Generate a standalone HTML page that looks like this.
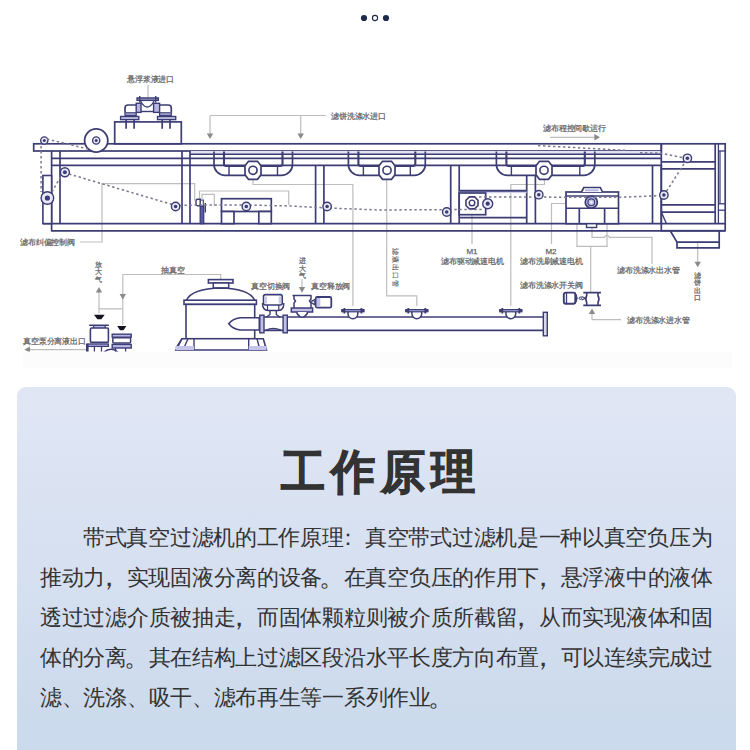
<!DOCTYPE html>
<html><head><meta charset="utf-8">
<style>
html,body{margin:0;padding:0;background:#fff;width:750px;height:750px;overflow:hidden;font-family:"Liberation Sans",sans-serif;}
.dots{position:absolute;left:0;top:0;}
.card{position:absolute;left:17px;top:387px;width:719px;height:380px;border-radius:9px;background:linear-gradient(180deg,#e0e6f4 0px,#d6e0f0 180px,#cad9ec 363px);}
h1{position:absolute;left:5.5px;top:442px;width:750px;margin:0;text-align:center;font-size:47px;letter-spacing:6.3px;transform:scaleX(0.94);transform-origin:375px 0;font-weight:bold;color:#333;line-height:60px;-webkit-text-stroke:1px #333;}
.p{position:absolute;left:40px;top:518px;width:680px;font-size:22px;letter-spacing:-0.3px;line-height:40px;color:#333;}
.p div{white-space:nowrap;height:40px;}
.cm{display:inline-block;width:21.7px;transform:translate(-7px,-1px) scale(1.25);}
.cl{display:inline-block;width:21.7px;transform:translate(-6px,0);}
.pd{display:inline-block;width:21.7px;transform:translate(-1px,0) scale(1.2);}
</style></head><body>
<svg width="750" height="370" viewBox="0 0 750 370" style="position:absolute;left:0;top:0" font-family="Liberation Sans, sans-serif"><defs><clipPath id="cp"><rect x="0" y="0" width="750" height="351.6"/></clipPath></defs><rect x="23" y="352" width="709" height="16" fill="#fcfcfc"/><g clip-path="url(#cp)"><path d="M148,85 L148,98" stroke="#bdbdbd" stroke-width="1.2" fill="none"/>
<path d="M210,115.5 L326,115.5" stroke="#bdbdbd" stroke-width="1.2" fill="none"/>
<path d="M210,115.5 L210,136" stroke="#bdbdbd" stroke-width="1.2" fill="none"/>
<path d="M300.7,115.5 L300.7,136" stroke="#bdbdbd" stroke-width="1.2" fill="none"/>
<polygon points="210,139 206.8,133.4 213.2,133.4" fill="#8a8a8a"/>
<polygon points="300.7,139 297.5,133.4 303.9,133.4" fill="#8a8a8a"/>
<path d="M550,137.3 L596,137.3" stroke="#bdbdbd" stroke-width="1.2" fill="none"/>
<polygon points="600,137.3 594.4,134.10000000000002 594.4,140.5" fill="#8a8a8a"/>
<path d="M80,242 L102,242 L102,183.7 L194.7,183.7 L194.7,200.7" stroke="#bdbdbd" stroke-width="1.2" fill="none"/>
<path d="M199.5,199 L199.5,191 L288.7,191 L288.7,205" stroke="#bdbdbd" stroke-width="1.2" fill="none"/>
<path d="M253,178 L253,184.5 L352.9,184.5 L352.9,306" stroke="#bdbdbd" stroke-width="1.2" fill="none"/>
<path d="M386.7,179 L386.7,295.8 L416.8,295.8 L416.8,306" stroke="#bdbdbd" stroke-width="1.2" fill="none"/>
<path d="M544.4,178 L544.4,184.5 L510.8,184.5 L510.8,306" stroke="#bdbdbd" stroke-width="1.2" fill="none"/>
<path d="M472,215 L472,244" stroke="#bdbdbd" stroke-width="1.2" fill="none"/>
<path d="M566,203.5 L551.5,203.5 L551.5,244" stroke="#bdbdbd" stroke-width="1.2" fill="none"/>
<path d="M577,205 L577,246.3 L607,246.3 L607,205" stroke="#bdbdbd" stroke-width="1.2" fill="none"/>
<path d="M590.7,246.3 L590.7,292" stroke="#bdbdbd" stroke-width="1.2" fill="none"/>
<path d="M592,228 L592,237.3 L604.5,237.3 Q607,233.5 609.5,237.3 L652,237.3 L652,264" stroke="#bdbdbd" stroke-width="1.2" fill="none"/>
<path d="M592,312 L592,319.7 L621,319.7" stroke="#bdbdbd" stroke-width="1.2" fill="none"/>
<polygon points="592,308.5 588.8,314.1 595.2,314.1" fill="#8a8a8a"/>
<path d="M697.7,241 L697.7,263" stroke="#bdbdbd" stroke-width="1.2" fill="none"/>
<polygon points="697.7,267.3 694.5,261.7 700.9000000000001,261.7" fill="#8a8a8a"/>
<path d="M99,291 L99,313 L99,308.8 L122.8,308.8" stroke="#bdbdbd" stroke-width="1.2" fill="none"/>
<polygon points="99,287 95.8,292.6 102.2,292.6" fill="#8a8a8a"/>
<path d="M122.8,274.5 L122.8,325" stroke="#bdbdbd" stroke-width="1.2" fill="none"/>
<polygon points="122.8,299.5 119.6,293.9 126.0,293.9" fill="#8a8a8a"/>
<path d="M122.8,274.5 L220.7,274.5 L220.7,280" stroke="#bdbdbd" stroke-width="1.2" fill="none"/>
<path d="M302,279 L302,289" stroke="#bdbdbd" stroke-width="1.2" fill="none"/>
<polygon points="302,292.7 298.8,287.09999999999997 305.2,287.09999999999997" fill="#8a8a8a"/>
<path d="M28,349.6 L87,349.6" stroke="#bdbdbd" stroke-width="1.2" fill="none"/>
<polygon points="24.4,349.6 30.0,346.40000000000003 30.0,352.8" fill="#8a8a8a"/>
<rect x="33.7" y="143.8" width="627.6" height="7.2" stroke="#3c3d74" stroke-width="1.7" fill="#fff" />
<rect x="190" y="151" width="471" height="3.3" fill="#e2e2f5"/>
<line x1="52" y1="158.3" x2="661" y2="158.3" stroke="#3c3d74" stroke-width="1.7" />
<line x1="52" y1="165.4" x2="661" y2="165.4" stroke="#3c3d74" stroke-width="1.7" />
<line x1="190" y1="154.3" x2="661" y2="154.3" stroke="#3c3d74" stroke-width="1.4" />
<line x1="43" y1="223.6" x2="725" y2="223.6" stroke="#3c3d74" stroke-width="1.7" />
<line x1="51.6" y1="230.8" x2="725" y2="230.8" stroke="#3c3d74" stroke-width="1.7" />
<line x1="51.6" y1="151" x2="51.6" y2="231.5" stroke="#3c3d74" stroke-width="1.7" />
<line x1="60" y1="151" x2="60" y2="224" stroke="#3c3d74" stroke-width="1.7" />
<rect x="42.9" y="175.5" width="8.7" height="48.1" stroke="#3c3d74" stroke-width="1.6" fill="#fff" />
<line x1="182" y1="151" x2="182" y2="223.6" stroke="#3c3d74" stroke-width="1.7" />
<line x1="190" y1="151" x2="190" y2="223.6" stroke="#3c3d74" stroke-width="1.7" />
<line x1="315.6" y1="165" x2="315.6" y2="223.6" stroke="#3c3d74" stroke-width="1.7" />
<line x1="323.9" y1="165" x2="323.9" y2="223.6" stroke="#3c3d74" stroke-width="1.7" />
<line x1="450.7" y1="165" x2="450.7" y2="223.6" stroke="#3c3d74" stroke-width="1.7" />
<line x1="459.2" y1="165" x2="459.2" y2="223.6" stroke="#3c3d74" stroke-width="1.7" />
<line x1="526.7" y1="165" x2="526.7" y2="223.6" stroke="#3c3d74" stroke-width="1.7" />
<line x1="535.4" y1="165" x2="535.4" y2="223.6" stroke="#3c3d74" stroke-width="1.7" />
<line x1="652.5" y1="165" x2="652.5" y2="223.6" stroke="#3c3d74" stroke-width="1.7" />
<line x1="661.3" y1="165" x2="661.3" y2="223.6" stroke="#3c3d74" stroke-width="1.7" />
<rect x="661.3" y="143.8" width="63.9" height="86.9" stroke="#3c3d74" stroke-width="1.7" fill="none" />
<line x1="715.2" y1="143.8" x2="715.2" y2="223.5" stroke="#3c3d74" stroke-width="1.7" />
<line x1="718.4" y1="143.8" x2="718.4" y2="223.5" stroke="#3c3d74" stroke-width="1.3" />
<line x1="661.3" y1="161.9" x2="715.2" y2="161.9" stroke="#3c3d74" stroke-width="1.7" />
<line x1="661.3" y1="168.9" x2="715.2" y2="168.9" stroke="#3c3d74" stroke-width="1.7" />
<line x1="661.3" y1="204.9" x2="715.2" y2="204.9" stroke="#3c3d74" stroke-width="1.7" />
<line x1="661.3" y1="212.1" x2="715.2" y2="212.1" stroke="#3c3d74" stroke-width="1.7" />
<line x1="720" y1="151" x2="720" y2="203.8" stroke="#3c3d74" stroke-width="1.2" />
<line x1="718.4" y1="151" x2="725.6" y2="151" stroke="#3c3d74" stroke-width="1.3" />
<line x1="718.4" y1="203.8" x2="725.6" y2="203.8" stroke="#3c3d74" stroke-width="1.3" />
<line x1="718.4" y1="210.2" x2="725.6" y2="210.2" stroke="#3c3d74" stroke-width="1.3" />
<line x1="661.3" y1="212" x2="666.4" y2="223.5" stroke="#3c3d74" stroke-width="1.4" />
<path d="M670.4,231 L677,242.2 L719.2,242.2 L719.2,247.8 L677,247.8 L677,242.2 M719.2,231 L719.2,242.2" stroke="#3c3d74" stroke-width="1.7" fill="none" />
<rect x="224" y="166" width="58.5" height="9.4" stroke="#3c3d74" stroke-width="0" fill="#fff" />
<path d="M214,151.5 L214,164.4 A11,11 0 0 0 225,175.4 L281.5,175.4 A11,11 0 0 0 292.5,164.4 L292.5,151.5" stroke="#3c3d74" stroke-width="1.7" fill="none" />
<path d="M224,151.5 L224,164 Q224,166 226,166 L280.5,166 Q282.5,166 282.5,164 L282.5,151.5" stroke="#3c3d74" stroke-width="2.1" fill="none" />
<line x1="229" y1="166" x2="229" y2="175.4" stroke="#3c3d74" stroke-width="1.4" />
<line x1="277.5" y1="166" x2="277.5" y2="175.4" stroke="#3c3d74" stroke-width="1.4" />
<polygon points="245,165.8 248.5,161.3 257.5,161.3 261,165.8 261,174.8 257.5,179.3 248.5,179.3 245,174.8" stroke="#3c3d74" stroke-width="1.7" fill="#fff"/>
<circle cx="253" cy="170.3" r="4.1" stroke="#3c3d74" stroke-width="1.6" fill="#fff"/>
<rect x="358.4" y="166" width="56.900000000000034" height="9.4" stroke="#3c3d74" stroke-width="0" fill="#fff" />
<path d="M348.4,151.5 L348.4,164.4 A11,11 0 0 0 359.4,175.4 L414.3,175.4 A11,11 0 0 0 425.3,164.4 L425.3,151.5" stroke="#3c3d74" stroke-width="1.7" fill="none" />
<path d="M358.4,151.5 L358.4,164 Q358.4,166 360.4,166 L413.3,166 Q415.3,166 415.3,164 L415.3,151.5" stroke="#3c3d74" stroke-width="2.1" fill="none" />
<line x1="363.4" y1="166" x2="363.4" y2="175.4" stroke="#3c3d74" stroke-width="1.4" />
<line x1="410.3" y1="166" x2="410.3" y2="175.4" stroke="#3c3d74" stroke-width="1.4" />
<polygon points="379,165.8 382.5,161.3 391.5,161.3 395,165.8 395,174.8 391.5,179.3 382.5,179.3 379,174.8" stroke="#3c3d74" stroke-width="1.7" fill="#fff"/>
<circle cx="387" cy="170.3" r="4.1" stroke="#3c3d74" stroke-width="1.6" fill="#fff"/>
<rect x="506.4" y="166" width="78.39999999999998" height="9.4" stroke="#3c3d74" stroke-width="0" fill="#fff" />
<path d="M496.4,151.5 L496.4,164.4 A11,11 0 0 0 507.4,175.4 L583.8,175.4 A11,11 0 0 0 594.8,164.4 L594.8,151.5" stroke="#3c3d74" stroke-width="1.7" fill="none" />
<path d="M506.4,151.5 L506.4,164 Q506.4,166 508.4,166 L582.8,166 Q584.8,166 584.8,164 L584.8,151.5" stroke="#3c3d74" stroke-width="2.1" fill="none" />
<line x1="511.4" y1="166" x2="511.4" y2="175.4" stroke="#3c3d74" stroke-width="1.4" />
<line x1="579.8" y1="166" x2="579.8" y2="175.4" stroke="#3c3d74" stroke-width="1.4" />
<polygon points="536,165.8 539.5,161.3 548.5,161.3 552,165.8 552,174.8 548.5,179.3 539.5,179.3 536,174.8" stroke="#3c3d74" stroke-width="1.7" fill="#fff"/>
<circle cx="544" cy="170.3" r="4.1" stroke="#3c3d74" stroke-width="1.6" fill="#fff"/>
<rect x="114.7" y="121.9" width="66.6" height="21.9" stroke="#3c3d74" stroke-width="1.7" fill="#fff" />
<line x1="126.1" y1="119.6" x2="126.1" y2="128.8" stroke="#3c3d74" stroke-width="1.7" />
<line x1="134.1" y1="119.6" x2="134.1" y2="128.8" stroke="#3c3d74" stroke-width="1.7" />
<line x1="162.2" y1="119.6" x2="162.2" y2="128.8" stroke="#3c3d74" stroke-width="1.7" />
<line x1="170" y1="119.6" x2="170" y2="128.8" stroke="#3c3d74" stroke-width="1.7" />
<rect x="120.6" y="116.5" width="18.2" height="3.1" stroke="#3c3d74" stroke-width="1.4" fill="#c8c8ea" />
<rect x="157.5" y="116.5" width="18.2" height="3.1" stroke="#3c3d74" stroke-width="1.4" fill="#c8c8ea" />
<rect x="125" y="112.8" width="11.2" height="2.6" stroke="#3c3d74" stroke-width="1.2" fill="#b8b8e4" />
<rect x="159.6" y="112.8" width="11.7" height="2.6" stroke="#3c3d74" stroke-width="1.2" fill="#b8b8e4" />
<path d="M125,112.8 L125,108 Q125,105 128,105 L136.2,105" stroke="#3c3d74" stroke-width="1.7" fill="#fff" />
<path d="M171.3,112.8 L171.3,108 Q171.3,105 168.3,105 L159.6,105" stroke="#3c3d74" stroke-width="1.7" fill="#fff" />
<rect x="136.2" y="103.3" width="4.8" height="9.1" stroke="#3c3d74" stroke-width="1.4" fill="#b8b8e4" />
<rect x="153.6" y="103.3" width="6" height="9.1" stroke="#3c3d74" stroke-width="1.4" fill="#b8b8e4" />
<path d="M141,100.5 L141,102 Q147.3,112 153.6,102 L153.6,100.5" stroke="#3c3d74" stroke-width="1.4" fill="#fff" />
<line x1="141" y1="111.5" x2="153.6" y2="111.5" stroke="#3c3d74" stroke-width="1.4" />
<rect x="137.1" y="98" width="21.2" height="2.3" stroke="#3c3d74" stroke-width="1.5" fill="#b8b8e4" />
<line x1="139.7" y1="96" x2="139.7" y2="102.5" stroke="#3c3d74" stroke-width="1.4" />
<line x1="155.7" y1="96" x2="155.7" y2="102.5" stroke="#3c3d74" stroke-width="1.4" />
<circle cx="96.2" cy="140.5" r="11.6" stroke="#3c3d74" stroke-width="1.8" fill="#fff"/>
<circle cx="96.2" cy="140.5" r="3.6" stroke="#3c3d74" stroke-width="1.4" fill="#e8e8f6"/>
<circle cx="96.2" cy="140.5" r="1.5" fill="#3c3d74"/>
<circle cx="44.3" cy="140.5" r="3.6" stroke="#3c3d74" stroke-width="1.4" fill="#e8e8f6"/>
<circle cx="44.3" cy="140.5" r="1.5" fill="#3c3d74"/>
<rect x="221.5" y="198.7" width="49.8" height="12.8" stroke="#3c3d74" stroke-width="1.7" fill="#fff" />
<rect x="221.5" y="211.5" width="12.5" height="12.1" stroke="#3c3d74" stroke-width="1.7" fill="#fff" />
<rect x="258.8" y="211.5" width="12.5" height="12.1" stroke="#3c3d74" stroke-width="1.7" fill="#fff" />
<rect x="200.2" y="206" width="3.5" height="17.6" stroke="#3c3d74" stroke-width="1.3" fill="#5a5aa8" />
<path d="M200.3,199.3 L197.5,199.3 Q196,199.3 196,201 L196,204 Q196,205.7 197.5,205.7 L200.3,205.7 Z" stroke="#3c3d74" stroke-width="1.4" fill="#fff" />
<rect x="200.3" y="200" width="3" height="6" stroke="#3c3d74" stroke-width="1.1" fill="#fff" />
<line x1="205.3" y1="203" x2="205.3" y2="212.5" stroke="#3c3d74" stroke-width="1.4" />
<path d="M202,200 L202,194.3 L214.3,194.3 L214.3,206" stroke="#bdbdbd" stroke-width="1.2" fill="none"/>
<rect x="459.2" y="190.7" width="67.5" height="2.4" fill="#d0d0ee"/>
<line x1="459.2" y1="190.7" x2="526.7" y2="190.7" stroke="#3c3d74" stroke-width="1.9" />
<line x1="459.2" y1="217.6" x2="526.7" y2="217.6" stroke="#3c3d74" stroke-width="1.9" />
<rect x="459.2" y="193" width="26.5" height="21.7" stroke="#3c3d74" stroke-width="1.7" fill="#fff" />
<polygon points="466,200.3 469.4,196.9 474.6,196.9 478,200.3 478,205.5 474.6,208.9 469.4,208.9 466,205.5" stroke="#3c3d74" stroke-width="1.6" fill="#fff"/>
<circle cx="472" cy="202.9" r="2.8" stroke="#3c3d74" stroke-width="1.4" fill="#fff"/>
<rect x="566" y="192" width="52.5" height="31.7" stroke="#3c3d74" stroke-width="1.7" fill="#fff" />
<line x1="566" y1="196" x2="618.5" y2="196" stroke="#3c3d74" stroke-width="1.5" />
<path d="M581.5,192 L583.8,187.5 L600.3,187.5 L602.5,192" stroke="#3c3d74" stroke-width="1.7" fill="#fff" />
<rect x="585" y="189.3" width="13.5" height="2" fill="#b8b8e4"/>
<line x1="566" y1="208.3" x2="618.5" y2="208.3" stroke="#3c3d74" stroke-width="1.6" />
<line x1="579.3" y1="208.3" x2="579.3" y2="223.7" stroke="#3c3d74" stroke-width="1.7" />
<line x1="604.6" y1="208.3" x2="604.6" y2="223.7" stroke="#3c3d74" stroke-width="1.7" />
<circle cx="591.3" cy="202.2" r="6" stroke="#3c3d74" stroke-width="1.8" fill="#c8c8ec"/>
<circle cx="591.3" cy="202.2" r="3.4" stroke="#3c3d74" stroke-width="1.2" fill="#c8c8ec"/>
<circle cx="591.3" cy="202.2" r="1" fill="#fff"/>
<rect x="586.5" y="223.7" width="10.1" height="3.8" stroke="#3c3d74" stroke-width="1.4" fill="#fff" />
<path d="M47,139 L88,149" stroke="#787890" stroke-width="1.5" stroke-dasharray="2.4 2.6" fill="none"/>
<path d="M41.1,146 L41.1,192" stroke="#787890" stroke-width="1.5" stroke-dasharray="2.4 2.6" fill="none"/>
<path d="M52,192 L61,176" stroke="#787890" stroke-width="1.5" stroke-dasharray="2.4 2.6" fill="none"/>
<path d="M69,174 L175.6,205.5 L200,205 L246.3,205 L290,206 L327,208 L380,210 L446.7,209.6 L483,209.6" stroke="#787890" stroke-width="1.5" stroke-dasharray="2.4 2.6" fill="none"/>
<path d="M479,197 L538.8,197 L566,197.3 L619,197.3" stroke="#787890" stroke-width="1.5" stroke-dasharray="2.4 2.6" fill="none"/>
<path d="M619,197.3 L663.9,195.5 L687.4,158.3" stroke="#787890" stroke-width="1.5" stroke-dasharray="2.4 2.6" fill="none"/>
<path d="M538,145.6 L625,150.3" stroke="#787890" stroke-width="1.5" stroke-dasharray="2.4 2.6" fill="none"/>
<path d="M640,152.7 L661,153.2 L687.2,158.7" stroke="#787890" stroke-width="1.5" stroke-dasharray="2.4 2.6" fill="none"/>
<circle cx="47.4" cy="198" r="6.3" stroke="#3c3d74" stroke-width="1.4" fill="#e8e8f6"/>
<circle cx="47.4" cy="198" r="2.6" fill="#3c3d74"/>
<circle cx="487.7" cy="203.7" r="5" stroke="#3c3d74" stroke-width="1.4" fill="#e8e8f6"/>
<circle cx="487.7" cy="203.7" r="2.1" fill="#3c3d74"/>
<circle cx="64.9" cy="172.3" r="4.5" stroke="#3c3d74" stroke-width="1.4" fill="#e8e8f6"/>
<circle cx="64.9" cy="172.3" r="2" fill="#3c3d74"/>
<circle cx="175.6" cy="206.5" r="4.2" stroke="#3c3d74" stroke-width="1.4" fill="#e8e8f6"/>
<circle cx="175.6" cy="206.5" r="1.8" fill="#3c3d74"/>
<circle cx="246.3" cy="206.5" r="4.2" stroke="#3c3d74" stroke-width="1.4" fill="#e8e8f6"/>
<circle cx="246.3" cy="206.5" r="1.8" fill="#3c3d74"/>
<circle cx="327.1" cy="206.5" r="4.2" stroke="#3c3d74" stroke-width="1.4" fill="#e8e8f6"/>
<circle cx="327.1" cy="206.5" r="1.8" fill="#3c3d74"/>
<circle cx="446.7" cy="212" r="4.2" stroke="#3c3d74" stroke-width="1.4" fill="#e8e8f6"/>
<circle cx="446.7" cy="212" r="1.8" fill="#3c3d74"/>
<circle cx="538.8" cy="194.7" r="4.2" stroke="#3c3d74" stroke-width="1.4" fill="#e8e8f6"/>
<circle cx="538.8" cy="194.7" r="1.8" fill="#3c3d74"/>
<circle cx="663.9" cy="195" r="4.2" stroke="#3c3d74" stroke-width="1.4" fill="#e8e8f6"/>
<circle cx="663.9" cy="195" r="1.8" fill="#3c3d74"/>
<circle cx="687.4" cy="158.3" r="4.2" stroke="#3c3d74" stroke-width="1.4" fill="#e8e8f6"/>
<circle cx="687.4" cy="158.3" r="1.8" fill="#3c3d74"/>
<rect x="208.4" y="279.6" width="24.6" height="3.4" stroke="#3c3d74" stroke-width="1.6" fill="#fff" />
<rect x="213.3" y="283" width="15.4" height="5" stroke="#3c3d74" stroke-width="1.5" fill="#fff" />
<path d="M186.5,300.2 Q192,288.5 220.7,288 Q249,288.5 254.7,300.2" stroke="#3c3d74" stroke-width="1.7" fill="#fff" />
<rect x="184" y="300.2" width="72.4" height="4.2" stroke="#3c3d74" stroke-width="1.6" fill="#fff" />
<rect x="186" y="304.4" width="68.7" height="34.3" stroke="#3c3d74" stroke-width="1.6" fill="#fff" />
<path d="M182,338.7 L263.3,338.7 L266.5,350 L176,350 Z" stroke="#3c3d74" stroke-width="1.6" fill="#fff" />
<path d="M182,338.7 L176,348 M194,338.7 L194,350 M188,338.7 L183,350 M248.7,338.7 L248.7,350 M257,338.7 L260,350" stroke="#3c3d74" stroke-width="1.4" fill="none" />
<rect x="176" y="346" width="18" height="4" fill="#c5c5ea"/><rect x="248.7" y="346" width="17.8" height="4" fill="#c5c5ea"/>
<path d="M228.7,323.7 Q233,318.5 240,317.7 L259.3,317.7 L259.3,330 L240,330 Q233,329 228.7,323.7 Z" stroke="#3c3d74" stroke-width="1.6" fill="#fff" />
<line x1="259" y1="317" x2="545" y2="317" stroke="#3c3d74" stroke-width="1.7" />
<line x1="259" y1="330.4" x2="545" y2="330.4" stroke="#3c3d74" stroke-width="1.7" />
<rect x="259.79999999999995" y="315.2" width="4.2" height="17.6" stroke="#3c3d74" stroke-width="1.4" fill="#c0c0e8" />
<rect x="283.09999999999997" y="315.2" width="4.2" height="17.6" stroke="#3c3d74" stroke-width="1.4" fill="#c0c0e8" />
<rect x="543.3" y="312.3" width="4" height="23.5" stroke="#3c3d74" stroke-width="1.4" fill="#d8d8ef" />
<path d="M262.5,303 Q262.5,310.4 268,310.4 L278.5,310.4 Q283.8,310.4 283.8,303" stroke="#3c3d74" stroke-width="1.5" fill="#fff" />
<rect x="263.5" y="294.6" width="18.7" height="10.4" rx="2" stroke="#3c3d74" stroke-width="1.6" fill="#fff"/>
<rect x="264.5" y="296.5" width="2.5" height="7" fill="#c8c8ea"/><rect x="278.7" y="296.5" width="2.5" height="7" fill="#c8c8ea"/>
<line x1="267.5" y1="305" x2="267.5" y2="310.4" stroke="#3c3d74" stroke-width="1.2" />
<line x1="278.8" y1="305" x2="278.8" y2="310.4" stroke="#3c3d74" stroke-width="1.2" />
<path d="M270,310.4 L270,314.5 L266,317.5 M276.3,310.4 L276.3,314.5 L280.3,317.5" stroke="#3c3d74" stroke-width="1.4" fill="none" />
<path d="M266,330 Q273,327 281,330" stroke="#3c3d74" stroke-width="1.3" fill="none" />
<line x1="292.5" y1="295.5" x2="311.5" y2="295.5" stroke="#3c3d74" stroke-width="1.6" />
<path d="M294,295.5 L294,299 L295.5,301 L294,303 L294,308 M311,295.5 L311,299 L309.5,301 L311,303 L311,308" stroke="#3c3d74" stroke-width="1.5" fill="none" />
<rect x="291.3" y="308" width="21.3" height="4" stroke="#3c3d74" stroke-width="1.5" fill="#c0c0e8" />
<path d="M297,312 L297,313.5 Q302,321 307.3,313.5 L307.3,312" stroke="#3c3d74" stroke-width="1.5" fill="#fff" />
<rect x="315.8" y="297" width="15.5" height="10.7" rx="1.5" stroke="#3c3d74" stroke-width="1.8" fill="#fff"/>
<rect x="316.8" y="298" width="3.5" height="8.7" fill="#c0c0e8"/>
<path d="M311,301.5 L315.8,299 M311,302.5 L315.8,305.5" stroke="#3c3d74" stroke-width="1.3" fill="none" />
<circle cx="313.3" cy="302.2" r="1.6" stroke="#3c3d74" stroke-width="1.1" fill="#fff"/>
<path d="M348.0,311.5 L348.0,313.8 A4.9,4.9 0 0 0 357.79999999999995,313.8 L357.79999999999995,311.5" stroke="#3c3d74" stroke-width="1.5" fill="#fff" />
<rect x="341.9" y="309.6" width="22" height="2.2" stroke="#3c3d74" stroke-width="1.2" fill="#a8a8dc" />
<line x1="344.4" y1="308" x2="344.4" y2="313.6" stroke="#3c3d74" stroke-width="1.8" />
<line x1="361.4" y1="308" x2="361.4" y2="313.6" stroke="#3c3d74" stroke-width="1.8" />
<line x1="341.4" y1="310.7" x2="343.9" y2="310.7" stroke="#3c3d74" stroke-width="2.2" />
<line x1="361.9" y1="310.7" x2="364.4" y2="310.7" stroke="#3c3d74" stroke-width="2.2" />
<path d="M411.90000000000003,311.5 L411.90000000000003,313.8 A4.9,4.9 0 0 0 421.7,313.8 L421.7,311.5" stroke="#3c3d74" stroke-width="1.5" fill="#fff" />
<rect x="405.8" y="309.6" width="22" height="2.2" stroke="#3c3d74" stroke-width="1.2" fill="#a8a8dc" />
<line x1="408.3" y1="308" x2="408.3" y2="313.6" stroke="#3c3d74" stroke-width="1.8" />
<line x1="425.3" y1="308" x2="425.3" y2="313.6" stroke="#3c3d74" stroke-width="1.8" />
<line x1="405.3" y1="310.7" x2="407.8" y2="310.7" stroke="#3c3d74" stroke-width="2.2" />
<line x1="425.8" y1="310.7" x2="428.3" y2="310.7" stroke="#3c3d74" stroke-width="2.2" />
<path d="M505.90000000000003,311.5 L505.90000000000003,313.8 A4.9,4.9 0 0 0 515.7,313.8 L515.7,311.5" stroke="#3c3d74" stroke-width="1.5" fill="#fff" />
<rect x="499.8" y="309.6" width="22" height="2.2" stroke="#3c3d74" stroke-width="1.2" fill="#a8a8dc" />
<line x1="502.3" y1="308" x2="502.3" y2="313.6" stroke="#3c3d74" stroke-width="1.8" />
<line x1="519.3" y1="308" x2="519.3" y2="313.6" stroke="#3c3d74" stroke-width="1.8" />
<line x1="499.3" y1="310.7" x2="501.8" y2="310.7" stroke="#3c3d74" stroke-width="2.2" />
<line x1="519.8" y1="310.7" x2="522.3" y2="310.7" stroke="#3c3d74" stroke-width="2.2" />
<polygon points="94,314.7 104.7,314.7 101.3,319.3 97.4,319.3" fill="#141420"/>
<polygon points="117.2,326 126.4,326 123.5,330.2 120,330.2" fill="#141420"/>
<line x1="89.2" y1="325.2" x2="108.8" y2="325.2" stroke="#3c3d74" stroke-width="1.6" />
<rect x="93.6" y="326" width="11.6" height="2" fill="#b8b8e4"/>
<line x1="93.6" y1="325" x2="93.6" y2="329" stroke="#3c3d74" stroke-width="1.3" />
<line x1="105.2" y1="325" x2="105.2" y2="329" stroke="#3c3d74" stroke-width="1.3" />
<rect x="90.4" y="328" width="18" height="14.4" rx="1.2" stroke="#3c3d74" stroke-width="1.6" fill="#fff"/>
<rect x="86.8" y="344" width="21.6" height="2.4" stroke="#3c3d74" stroke-width="1.3" fill="#b8b8e4" />
<line x1="87.3" y1="344" x2="87.3" y2="352" stroke="#3c3d74" stroke-width="2.6" />
<line x1="94.4" y1="346" x2="94.4" y2="352" stroke="#3c3d74" stroke-width="1.3" />
<line x1="101.5" y1="346" x2="101.5" y2="352" stroke="#3c3d74" stroke-width="1.3" />
<circle cx="111" cy="358.8" r="9.5" stroke="#3c3d74" stroke-width="1.6" fill="#fff"/>
<rect x="112.2" y="334.2" width="19" height="3" stroke="#3c3d74" stroke-width="1.4" fill="#b8b8e4" />
<rect x="112.8" y="337.8" width="17.8" height="5.2" rx="1" stroke="#3c3d74" stroke-width="1.5" fill="#fff"/>
<rect x="112.2" y="344.4" width="19" height="3.6" stroke="#3c3d74" stroke-width="1.4" fill="#b8b8e4" />
<line x1="115.6" y1="348" x2="115.6" y2="352" stroke="#3c3d74" stroke-width="1.3" />
<line x1="125.6" y1="348" x2="125.6" y2="352" stroke="#3c3d74" stroke-width="1.3" />
<rect x="563.8" y="292.6" width="11.5" height="11.2" rx="2" stroke="#3c3d74" stroke-width="1.9" fill="#fff"/>
<line x1="566.5" y1="293" x2="566.5" y2="303.5" stroke="#3c3d74" stroke-width="1.3" />
<path d="M574.5,292.8 Q579,298.2 574.5,303.6" stroke="#3c3d74" stroke-width="1.6" fill="none" />
<path d="M575.5,293.5 Q578.5,298.2 575.5,303" stroke="#3c3d74" stroke-width="1" fill="none" />
<circle cx="580.3" cy="298.2" r="1.2" stroke="#3c3d74" stroke-width="1" fill="#fff"/>
<path d="M581.5,296.5 L585.5,298.2 L581.5,300" stroke="#3c3d74" stroke-width="1.1" fill="none" />
<line x1="583.3" y1="292.7" x2="601" y2="292.7" stroke="#3c3d74" stroke-width="1.7" />
<line x1="583.3" y1="305.3" x2="601" y2="305.3" stroke="#3c3d74" stroke-width="1.7" />
<path d="M586.7,292.7 L586.7,295.5 Q584.8,299 586.7,302.5 L586.7,305.3" stroke="#3c3d74" stroke-width="1.6" fill="none" />
<path d="M598,292.7 L598,295.5 Q599.9,299 598,302.5 L598,305.3" stroke="#3c3d74" stroke-width="1.6" fill="none" />
<text x="127" y="82" font-size="8" letter-spacing="-0.15" fill="#666666" stroke="#666666" stroke-width="0.25" text-anchor="start">悬浮浆液进口</text>
<text x="331" y="118.5" font-size="8" letter-spacing="-0.15" fill="#666666" stroke="#666666" stroke-width="0.25" text-anchor="start">滤饼洗涤水进口</text>
<text x="543" y="131" font-size="8" letter-spacing="-0.15" fill="#666666" stroke="#666666" stroke-width="0.25" text-anchor="start">滤布程控间歇运行</text>
<text x="20" y="245" font-size="8" letter-spacing="-0.15" fill="#666666" stroke="#666666" stroke-width="0.25" text-anchor="start">滤布纠偏控制阀</text>
<text x="98.5" y="266.5" font-size="7" fill="#666666" stroke="#666666" stroke-width="0.25" text-anchor="middle">放</text>
<text x="98.5" y="274.2" font-size="7" fill="#666666" stroke="#666666" stroke-width="0.25" text-anchor="middle">大</text>
<text x="98.5" y="281.9" font-size="7" fill="#666666" stroke="#666666" stroke-width="0.25" text-anchor="middle">气</text>
<text x="161" y="273" font-size="8" letter-spacing="-0.15" fill="#666666" stroke="#666666" stroke-width="0.25" text-anchor="start">抽真空</text>
<text x="23" y="343.5" font-size="8" letter-spacing="-0.15" fill="#666666" stroke="#666666" stroke-width="0.25" text-anchor="start">真空泵分离液出口</text>
<text x="251" y="289" font-size="8" letter-spacing="-0.15" fill="#666666" stroke="#666666" stroke-width="0.25" text-anchor="start">真空切换阀</text>
<text x="302" y="263.0" font-size="7" fill="#666666" stroke="#666666" stroke-width="0.25" text-anchor="middle">进</text>
<text x="302" y="270.7" font-size="7" fill="#666666" stroke="#666666" stroke-width="0.25" text-anchor="middle">大</text>
<text x="302" y="278.4" font-size="7" fill="#666666" stroke="#666666" stroke-width="0.25" text-anchor="middle">气</text>
<text x="311" y="289" font-size="8" letter-spacing="-0.15" fill="#666666" stroke="#666666" stroke-width="0.25" text-anchor="start">真空释放阀</text>
<text x="0" y="0" font-size="7.2" letter-spacing="0.9" fill="#666666" stroke="#666666" stroke-width="0.15" transform="translate(393.2,248) rotate(90)">滤液出口管</text>
<text x="472" y="254" font-size="8" letter-spacing="-0.15" fill="#666666" stroke="#666666" stroke-width="0.25" text-anchor="middle">M1</text>
<text x="441" y="264" font-size="8" letter-spacing="-0.15" fill="#666666" stroke="#666666" stroke-width="0.25" text-anchor="start">滤布驱动减速电机</text>
<text x="551" y="254" font-size="8" letter-spacing="-0.15" fill="#666666" stroke="#666666" stroke-width="0.25" text-anchor="middle">M2</text>
<text x="520" y="264" font-size="8" letter-spacing="-0.15" fill="#666666" stroke="#666666" stroke-width="0.25" text-anchor="start">滤布洗刷减速电机</text>
<text x="520" y="288" font-size="8" letter-spacing="-0.15" fill="#666666" stroke="#666666" stroke-width="0.25" text-anchor="start">滤布洗涤水开关阀</text>
<text x="617" y="273" font-size="8" letter-spacing="-0.15" fill="#666666" stroke="#666666" stroke-width="0.25" text-anchor="start">滤布洗涤水出水管</text>
<text x="697.8" y="277.5" font-size="7" fill="#666666" stroke="#666666" stroke-width="0.25" text-anchor="middle">滤</text>
<text x="697.8" y="285.1" font-size="7" fill="#666666" stroke="#666666" stroke-width="0.25" text-anchor="middle">饼</text>
<text x="697.8" y="292.7" font-size="7" fill="#666666" stroke="#666666" stroke-width="0.25" text-anchor="middle">出</text>
<text x="697.8" y="300.3" font-size="7" fill="#666666" stroke="#666666" stroke-width="0.25" text-anchor="middle">口</text>
<text x="627" y="323" font-size="8" letter-spacing="-0.15" fill="#666666" stroke="#666666" stroke-width="0.25" text-anchor="start">滤布洗涤水进水管</text></g></svg>
<svg class="dots" width="750" height="40"><circle cx="364" cy="18" r="3.1" fill="#1b2a4a"/><circle cx="375" cy="18" r="2.6" fill="#fff" stroke="#1b2a4a" stroke-width="1.1"/><circle cx="386" cy="18" r="3.1" fill="#1b2a4a"/></svg>
<div class="card"></div>
<h1>工作原理</h1>
<div class="p">
<div style="padding-left:43px">带式真空过滤机的工作原理<span class="cl">：</span>真空带式过滤机是一种以真空负压为</div>
<div>推动力<span class="cm">，</span>实现固液分离的设备<span class="pd">。</span>在真空负压的作用下<span class="cm">，</span>悬浮液中的液体</div>
<div>透过过滤介质被抽走<span class="cm">，</span>而固体颗粒则被介质所截留<span class="cm">，</span>从而实现液体和固</div>
<div>体的分离<span class="pd">。</span>其在结构上过滤区段沿水平长度方向布置<span class="cm">，</span>可以连续完成过</div>
<div>滤、洗涤、吸干、滤布再生等一系列作业<span class="pd">。</span></div>
</div>
</body></html>
